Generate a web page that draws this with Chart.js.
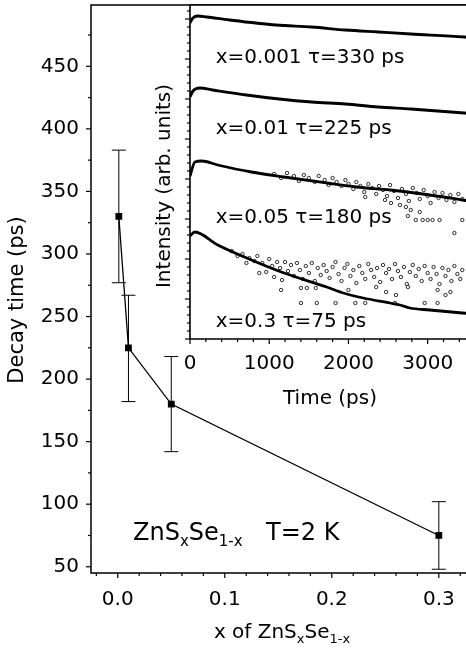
<!DOCTYPE html>
<html>
<head>
<meta charset="utf-8">
<script src="https://cdn.jsdelivr.net/npm/chart.js@4.4.1/dist/chart.umd.min.js"></script>
<style>
html, body { margin: 0; padding: 0; background: #fff; overflow: hidden; }
#wrap { position: relative; width: 466px; height: 650px; overflow: hidden; }
canvas { position: absolute; left: 0; top: 0; }
</style>
</head>
<body>
<div id="wrap">
  <canvas id="mainChart" width="480" height="650"></canvas>
  <canvas id="insetChart" width="480" height="650"></canvas>
</div>
<script>
// main plot: decay time vs sulfur content
const sulfurX = [0.001, 0.01, 0.05, 0.3];
const decayTime = [330, 225, 180, 75];
const decayLow = [277, 182, 142, 48];
const decayHigh = [383, 267, 218, 102];
const mainXLabels = [0, 0.1, 0.2, 0.3];
const mainYLabels = [50, 100, 150, 200, 250, 300, 350, 400, 450];

// inset: transients (time in ps, intensity in arb. units)
const timeA = [0, 37, 100, 212, 500, 1087, 1537, 1962, 2375, 2787, 3462, 3600];
const intA = [316, 321, 323, 322, 319, 314, 312, 309, 307, 305, 302, 301];
const timeB = [0, 37, 125, 287, 712, 1125, 1537, 1962, 2375, 2787, 3462, 3600];
const intB = [242, 248, 251, 249, 244, 240, 237, 235, 232, 230, 226, 225];
const timeC = [0, 62, 150, 350, 775, 1187, 1725, 2100, 2525, 2937, 3437, 3600];
const intC = [163, 177, 178, 174, 167, 162, 156, 152, 149, 145, 139, 137];
const timeD = [0, 60, 350, 775, 1187, 1725, 1937, 2187, 2525, 2650, 2775, 3025, 3437, 3600];
const intD = [103, 107, 94, 79, 66, 52, 46, 41, 36, 34, 31, 29, 26, 25];

// measured points (open circles) for x=0.05
const dotTimeC = [1062, 1150, 1225, 1312, 1375, 1437, 1500, 1575, 1625, 1700, 1750, 1800, 1850, 1912, 1962,
  2000, 2062, 2100, 2150, 2200, 2250, 2300, 2350, 2387, 2437, 2487, 2525, 2575, 2625, 2675, 2725, 2762,
  2812, 2862, 2900, 2950, 3000, 3037, 3087, 3137, 3187, 3237, 3287, 3337, 3387, 3437,
  2212, 2462, 2537, 2650, 2725, 2787, 2900, 2750, 2850, 2937, 3000, 3062, 3150, 3437, 3337];
const dotIntC = [165, 161, 166, 163, 158, 164, 161, 157, 163, 159, 154, 161, 157, 153, 159,
  155, 150, 157, 153, 147, 155, 151, 145, 153, 149, 143, 154, 148, 141, 150, 145, 138,
  151, 146, 140, 149, 143, 136, 147, 141, 146, 139, 144, 137, 145, 140,
  142, 139, 136, 134, 132, 129, 127, 123, 119, 119, 119, 119, 119, 119, 106];

// measured points (open circles) for x=0.3
const dotTimeD = [525, 600, 662, 712, 750, 812, 850, 875, 912, 962, 1000, 1037, 1062, 1100, 1137, 1162,
  1200, 1237, 1275, 1312, 1350, 1387, 1425, 1462, 1500, 1537, 1575, 1612, 1650, 1687, 1725, 1762, 1800,
  1837, 1875, 1912, 1950, 1987, 2025, 2062, 2100, 2137, 2175, 2212, 2250, 2287, 2325, 2362, 2400, 2437,
  2475, 2512, 2550, 2587, 2625, 2662, 2700, 2737, 2775, 2812, 2850, 2887, 2925, 2962, 3000, 3037, 3075,
  3112, 3150, 3187, 3225, 3262, 3300, 3337, 3375, 3412, 3437,
  1150, 1400, 1475, 1587, 1400, 1600, 1837, 2087, 2212, 2587, 2962, 3125, 2350, 2475, 2600, 2750, 3225,
  3287, 2000, 3125];
const dotIntD = [88, 83, 85, 76, 81, 78, 83, 66, 76, 67, 80, 73, 62, 77, 71, 59,
  77, 68, 74, 63, 76, 69, 60, 73, 66, 76, 58, 71, 64, 74, 68, 61, 72,
  77, 65, 58, 71, 75, 63, 69, 56, 73, 66, 60, 75, 69, 62, 71, 57, 74,
  66, 70, 60, 75, 68, 62, 72, 55, 67, 74, 63, 70, 58, 73, 66, 60, 72,
  65, 55, 71, 63, 69, 58, 73, 65, 60, 69,
  49, 51, 51, 51, 36, 36, 36, 36, 36, 36, 36, 36, 52, 47, 44, 52, 44,
  47, 49, 49];

const FONT = '"DejaVu Sans", sans-serif';
Chart.defaults.font.family = FONT;
Chart.defaults.font.size = 20;
Chart.defaults.color = '#000';

function near(v, list) {
  return list.some(l => Math.abs(v - l) < 1e-6);
}

// no extra room for edge labels, keep the plot box where it is
function fixWidth(w) {
  return s => { s.width = w; s.paddingTop = 0; s.paddingBottom = 0; };
}
function fixHeight(h) {
  return s => { s.height = h; s.paddingLeft = 0; s.paddingRight = 0; };
}

function drawTickMarks(ctx, scale, isMajor, majorLen, minorLen) {
  ctx.save();
  ctx.strokeStyle = '#000';
  ctx.lineWidth = 1.2;
  scale.ticks.forEach(t => {
    const p = scale.getPixelForValue(t.value);
    const len = isMajor(t.value) ? majorLen : minorLen;
    ctx.beginPath();
    if (scale.isHorizontal()) {
      ctx.moveTo(p, scale.top);
      ctx.lineTo(p, scale.top + len);
    } else {
      ctx.moveTo(scale.right, p);
      ctx.lineTo(scale.right - len, p);
    }
    ctx.stroke();
  });
  ctx.restore();
}

function drawFrame(ctx, area, width) {
  ctx.save();
  ctx.strokeStyle = '#000';
  ctx.lineWidth = width;
  ctx.beginPath();
  ctx.moveTo(area.right + 5, area.top);
  ctx.lineTo(area.left, area.top);
  ctx.lineTo(area.left, area.bottom);
  ctx.lineTo(area.right + 5, area.bottom);
  ctx.stroke();
  ctx.restore();
}

// text with subscripts: parts = [text, size, dy]
function drawRich(ctx, parts, x, y, align) {
  let w = 0;
  parts.forEach(p => {
    ctx.font = p[1] + 'px ' + FONT;
    w += ctx.measureText(p[0]).width;
  });
  let cx = align === 'center' ? x - w / 2 : x;
  ctx.textAlign = 'left';
  ctx.textBaseline = 'alphabetic';
  parts.forEach(p => {
    ctx.font = p[1] + 'px ' + FONT;
    ctx.fillText(p[0], cx, y + p[2]);
    cx += ctx.measureText(p[0]).width;
  });
}

const errorBars = {
  id: 'errorBars',
  afterDatasetsDraw(chart) {
    const { ctx, scales: { x, y } } = chart;
    ctx.save();
    ctx.strokeStyle = '#000';
    ctx.lineWidth = 1;
    sulfurX.forEach((v, i) => {
      const px = x.getPixelForValue(v);
      const top = y.getPixelForValue(decayHigh[i]);
      const bot = y.getPixelForValue(decayLow[i]);
      ctx.beginPath();
      ctx.moveTo(px, top); ctx.lineTo(px, bot);
      ctx.moveTo(px - 7, top); ctx.lineTo(px + 7, top);
      ctx.moveTo(px - 7, bot); ctx.lineTo(px + 7, bot);
      ctx.stroke();
    });
    ctx.restore();
  }
};

const mainDecor = {
  id: 'mainDecor',
  afterDraw(chart) {
    const { ctx, chartArea, scales: { x, y } } = chart;
    drawFrame(ctx, chartArea, 1.5);
    drawTickMarks(ctx, x, v => near(v, mainXLabels), 5, 3);
    drawTickMarks(ctx, y, v => near(v, mainYLabels), 5, 3);

    ctx.save();
    ctx.fillStyle = '#000';
    ctx.translate(18, 300);
    ctx.rotate(-Math.PI / 2);
    ctx.font = '21px ' + FONT;
    ctx.textAlign = 'center';
    ctx.textBaseline = 'middle';
    ctx.fillText('Decay time (ps)', 0, 0);
    ctx.restore();

    ctx.save();
    ctx.fillStyle = '#000';
    drawRich(ctx, [['x of ZnS', 20, 0], ['x', 13, 5], ['Se', 20, 0], ['1-x', 13, 5]], 282, 638, 'center');
    drawRich(ctx, [['ZnS', 24, 0], ['x', 15, 6], ['Se', 24, 0], ['1-x', 15, 6]], 133, 540, 'left');
    drawRich(ctx, [['T=2 K', 24, 0]], 266, 540, 'left');
    ctx.restore();
  }
};

const insetDecor = {
  id: 'insetDecor',
  beforeDraw(chart) {
    const { ctx, chartArea } = chart;
    ctx.save();
    ctx.fillStyle = '#fff';
    ctx.fillRect(chartArea.left, chartArea.top, chartArea.right - chartArea.left, chartArea.bottom - chartArea.top);
    ctx.restore();
  },
  afterDraw(chart) {
    const { ctx, chartArea, scales: { x, y } } = chart;
    drawFrame(ctx, chartArea, 1.6);
    drawTickMarks(ctx, x, v => v % 1000 === 0, 5, 3);
    drawTickMarks(ctx, y, v => v % 40 === 0, 5, 3);

    ctx.save();
    ctx.fillStyle = '#000';
    ctx.translate(165, 186);
    ctx.rotate(-Math.PI / 2);
    ctx.font = '20px ' + FONT;
    ctx.textAlign = 'center';
    ctx.textBaseline = 'middle';
    ctx.fillText('Intensity (arb. units)', 0, 0);
    ctx.restore();

    ctx.save();
    ctx.fillStyle = '#000';
    drawRich(ctx, [['Time (ps)', 20, 0]], 330, 404, 'center');
    const tx = x.getPixelForValue(325);
    drawRich(ctx, [['x=0.001 \u03c4=330 ps', 20, 0]], tx, y.getPixelForValue(276), 'left');
    drawRich(ctx, [['x=0.01 \u03c4=225 ps', 20, 0]], tx, y.getPixelForValue(205), 'left');
    drawRich(ctx, [['x=0.05 \u03c4=180 ps', 20, 0]], tx, y.getPixelForValue(116), 'left');
    drawRich(ctx, [['x=0.3 \u03c4=75 ps', 20, 0]], tx, y.getPixelForValue(12), 'left');
    ctx.restore();
  }
};

const pairs = (xs, ys) => xs.map((v, i) => ({ x: v, y: ys[i] }));

const mainChart = new Chart(document.getElementById('mainChart'), {
  type: 'line',
  data: {
    datasets: [{
      data: pairs(sulfurX, decayTime),
      borderColor: '#000',
      backgroundColor: '#000',
      borderWidth: 1.3,
      pointStyle: 'rect',
      pointRadius: 4.8,
      pointBorderWidth: 0,
      tension: 0,
    }],
  },
  options: {
    responsive: false,
    animation: false,
    devicePixelRatio: 1,
    layout: { padding: { top: 5, right: 2, left: 0, bottom: 0 } },
    plugins: { legend: { display: false }, tooltip: { enabled: false } },
    scales: {
      x: {
        type: 'linear',
        min: -0.025,
        max: 0.334,
        afterFit: fixHeight(77),
        grid: { display: false, drawTicks: false },
        border: { display: false },
        ticks: {
          stepSize: 0.02, includeBounds: false, padding: 15, maxRotation: 0, autoSkip: false,
          callback: v => near(v, mainXLabels) ? v.toFixed(1) : '',
        },
      },
      y: {
        type: 'linear',
        min: 45,
        max: 499,
        afterFit: fixWidth(91),
        grid: { display: false, drawTicks: false },
        border: { display: false },
        ticks: {
          stepSize: 25, includeBounds: false, padding: 12, autoSkip: false,
          callback: v => near(v, mainYLabels) ? String(v) : '',
        },
      },
    },
  },
  plugins: [errorBars, mainDecor],
});

const curveStyle = {
  borderColor: '#000',
  borderWidth: 2.8,
  pointRadius: 0,
  cubicInterpolationMode: 'monotone',
  showLine: true,
};
const dotStyle = {
  showLine: false,
  pointRadius: 1.7,
  pointBorderWidth: 0.8,
  pointBorderColor: '#000',
  pointBackgroundColor: '#fff',
};

const insetChart = new Chart(document.getElementById('insetChart'), {
  type: 'scatter',
  data: {
    datasets: [
      { ...curveStyle, data: pairs(timeA, intA) },
      { ...curveStyle, data: pairs(timeB, intB) },
      { ...curveStyle, data: pairs(timeC, intC) },
      { ...curveStyle, data: pairs(timeD, intD) },
      { ...dotStyle, data: pairs(dotTimeC, dotIntC) },
      { ...dotStyle, data: pairs(dotTimeD, dotIntD) },
    ],
  },
  options: {
    responsive: false,
    animation: false,
    devicePixelRatio: 1,
    layout: { padding: { top: 5, right: 2, left: 0, bottom: 0 } },
    plugins: { legend: { display: false }, tooltip: { enabled: false } },
    scales: {
      x: {
        type: 'linear',
        min: 0,
        max: 3600,
        afterFit: fixHeight(311),
        grid: { display: false, drawTicks: false },
        border: { display: false },
        ticks: {
          stepSize: 200, includeBounds: false, padding: 13, maxRotation: 0, autoSkip: false,
          callback: v => v % 1000 === 0 ? String(v) : '',
        },
      },
      y: {
        type: 'linear',
        min: 0,
        max: 334,
        afterFit: fixWidth(190),
        grid: { display: false, drawTicks: false },
        border: { display: false },
        ticks: { display: false, stepSize: 8, includeBounds: false, autoSkip: false },
      },
    },
  },
  plugins: [insetDecor],
});
</script>
</body>
</html>
